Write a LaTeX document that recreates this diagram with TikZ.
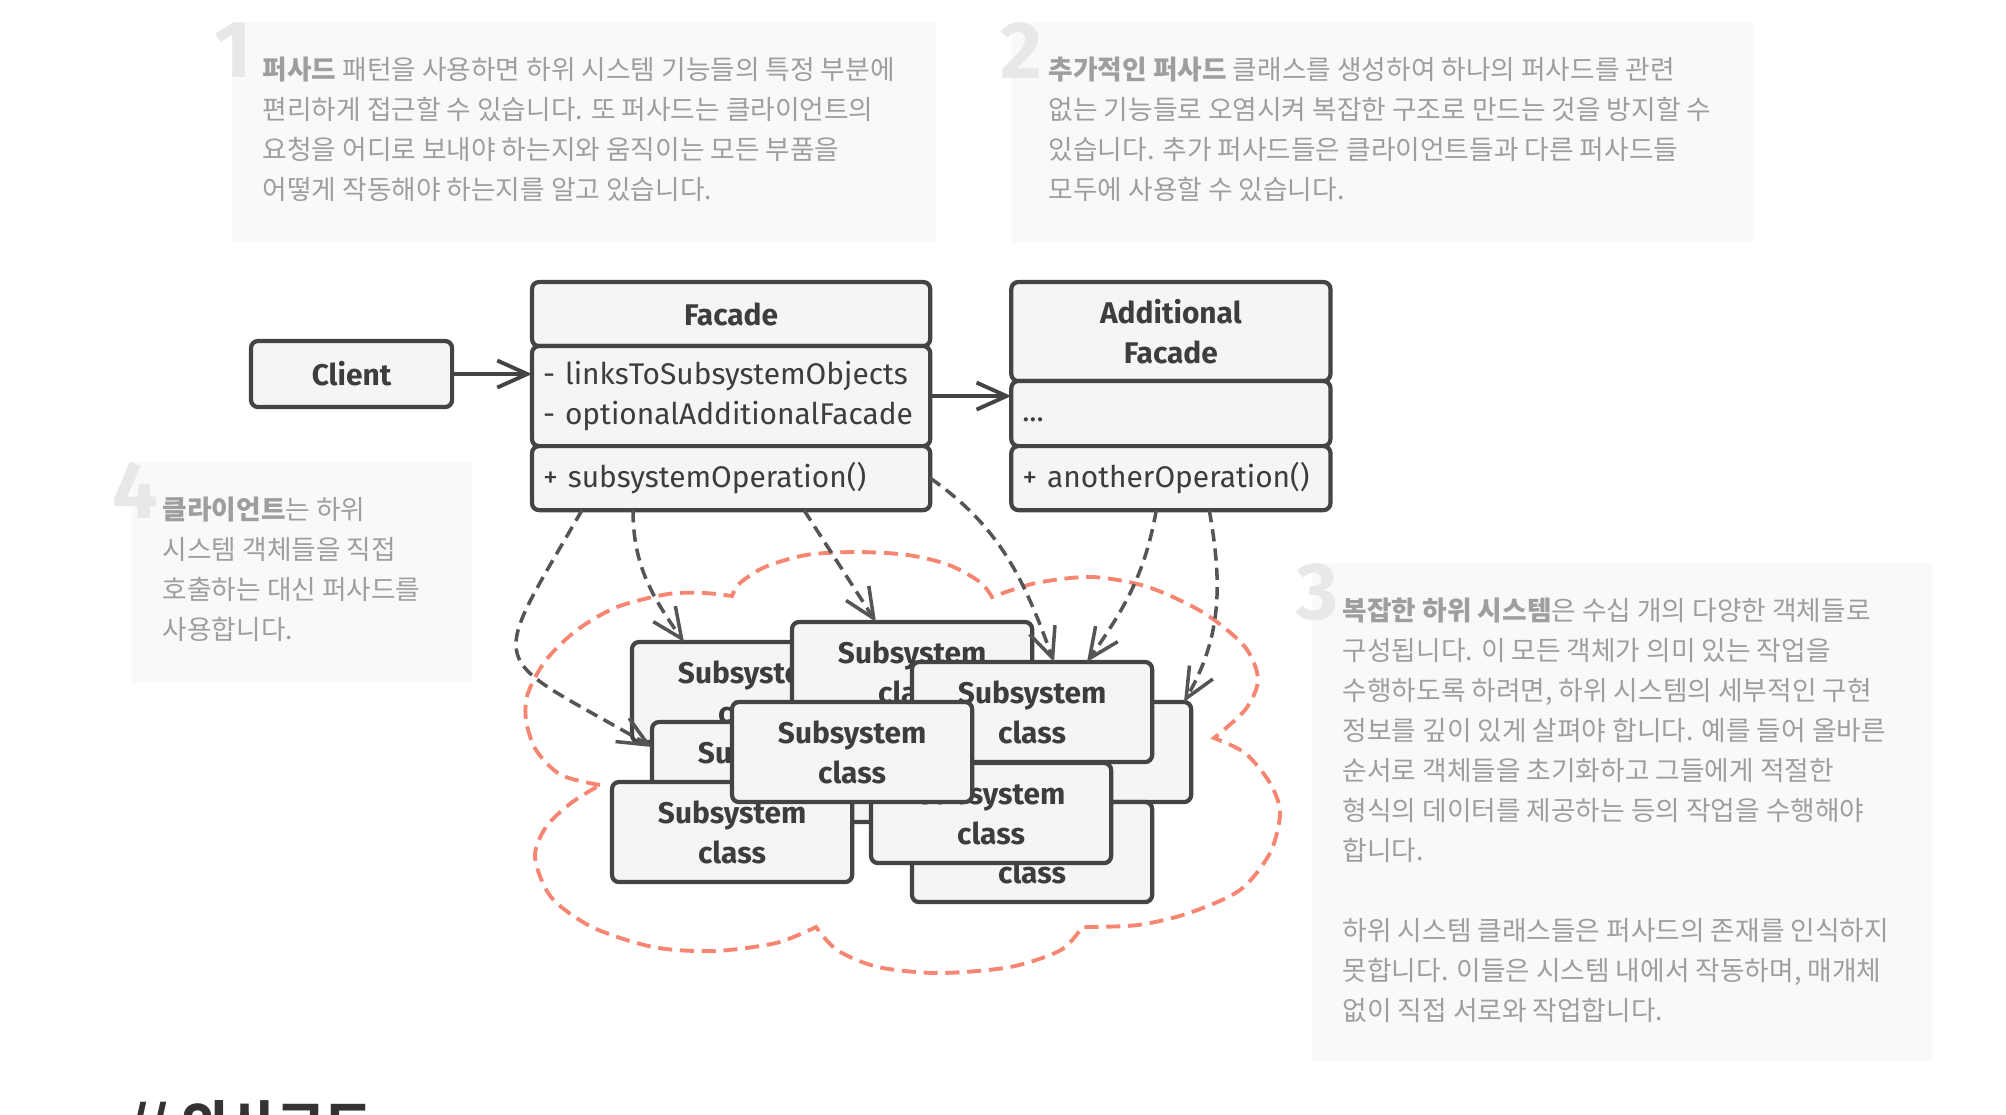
\documentclass[tikz,border=0pt]{standalone}
\usepackage{fontspec}
\setmainfont{Fira Sans}
\newfontfamily\kr{Noto Sans CJK KR}
\usetikzlibrary{arrows.meta, positioning, calc}
\definecolor{linegray}{RGB}{68,68,68}
\definecolor{boxgray}{RGB}{245,245,245}
\definecolor{inkgray}{RGB}{61,61,61}
\definecolor{arrowgray}{RGB}{85,85,85}
\definecolor{cloudred}{RGB}{246,134,114}
\definecolor{notegray}{RGB}{249,249,249}
\definecolor{numgray}{RGB}{232,232,232}
\definecolor{textgray}{RGB}{158,158,158}
\definecolor{headgray}{RGB}{51,51,51}

\begin{document}
\begin{tikzpicture}[
        x=0.01cm, y=0.01cm,
        note/.style={rectangle, fill=notegray, anchor=north west, inner sep=0pt, outer sep=0pt},
        notenum/.style={anchor=north west, inner sep=0pt, text=numgray, font=\bfseries\fontsize{23}{23}\selectfont},
        notetext/.style={anchor=north west, inner sep=0pt, align=left, text=textgray, font=\kr\fontsize{7.6}{11.38}\selectfont},
        box/.style={rectangle, draw=linegray, fill=boxgray, line width=1.2pt, rounded corners=2pt, outer sep=0pt, inner xsep=0.11cm, inner ysep=0pt, text=inkgray, font=\fontsize{8.5}{11.38}\selectfont},
        head/.style={box, font=\bfseries\fontsize{8.5}{11.38}\selectfont, align=center},
        member/.style={box, align=left},
        subsys/.style={head, anchor=north west, minimum width=2.4cm, minimum height=1cm},
        assoc/.style={draw=linegray, line width=1.1pt, -{Straight Barb[length=0.3cm, width=0.27cm]}},
        link/.style={draw=arrowgray, line width=1pt, dash pattern=on 3.5pt off 2pt, -{Straight Barb[length=0.3cm, width=0.27cm]}},
        cloudline/.style={draw=cloudred, line width=1.1pt, dash pattern=on 4pt off 2.2pt}
    ]
        \useasboundingbox (0,0) rectangle (2006,-1114);

        % notes
        \node[note, minimum width=7.04cm, minimum height=2.2cm] (note1) at (232,-22) {};
        \node[note, minimum width=7.42cm, minimum height=2.2cm] (note2) at (1012,-22) {};
        \node[note, minimum width=6.2cm, minimum height=4.98cm] (note3) at (1312,-563) {};
        \node[note, minimum width=3.4cm, minimum height=2.2cm] (note4) at (132,-462) {};
        \node[notenum] (num1) at ($(note1.north west)+(-18,0)$) {1};
        \node[notenum] (num2) at ($(note2.north west)+(-12,0)$) {2};
        \node[notenum] (num3) at ($(note3.north west)+(-16,0)$) {3};
        \node[notenum] (num4) at ($(note4.north west)+(-20,0)$) {4};
        \node[notetext] (text1) at ($(note1.north west)+(30,-27)$) {\rule{0pt}{0.3cm}\textbf{퍼사드} 패턴을 사용하면 하위 시스템 기능들의 특정 부분에\\
            편리하게 접근할 수 있습니다. 또 퍼사드는 클라이언트의\\
            요청을 어디로 보내야 하는지와 움직이는 모든 부품을\\
            어떻게 작동해야 하는지를 알고 있습니다.};
        \node[notetext] (text2) at ($(note2.north west)+(36,-27)$) {\rule{0pt}{0.3cm}\textbf{추가적인 퍼사드} 클래스를 생성하여 하나의 퍼사드를 관련\\
            없는 기능들로 오염시켜 복잡한 구조로 만드는 것을 방지할 수\\
            있습니다. 추가 퍼사드들은 클라이언트들과 다른 퍼사드들\\
            모두에 사용할 수 있습니다.};
        \node[notetext] (text3) at ($(note3.north west)+(30,-27)$) {\rule{0pt}{0.3cm}\textbf{복잡한 하위 시스템}은 수십 개의 다양한 객체들로\\
            구성됩니다. 이 모든 객체가 의미 있는 작업을\\
            수행하도록 하려면, 하위 시스템의 세부적인 구현\\
            정보를 깊이 있게 살펴야 합니다. 예를 들어 올바른\\
            순서로 객체들을 초기화하고 그들에게 적절한\\
            형식의 데이터를 제공하는 등의 작업을 수행해야\\
            합니다.\\[11.38pt]
            하위 시스템 클래스들은 퍼사드의 존재를 인식하지\\
            못합니다. 이들은 시스템 내에서 작동하며, 매개체\\
            없이 직접 서로와 작업합니다.};
        \node[notetext] (text4) at ($(note4.north west)+(30,-27)$) {\rule{0pt}{0.3cm}\textbf{클라이언트}는 하위\\
            시스템 객체들을 직접\\
            호출하는 대신 퍼사드를\\
            사용합니다.};

        % subsystem cloud
        \draw[cloudline] plot[smooth] coordinates {(600,-785) (561,-775) (536,-750) (526,-720) (528,-693) (546,-660) (577,-630) (617,-607) (668,-594) (704,-593) (732,-596)}
            -- plot[smooth] coordinates {(732,-596) (740,-583) (765,-567) (806,-555) (857,-552) (908,-555) (949,-565) (980,-582) (992,-597)}
            -- plot[smooth] coordinates {(992,-597) (1036,-583) (1092,-577) (1148,-587) (1204,-613) (1245,-647) (1258,-680) (1245,-710) (1214,-738)}
            -- plot[smooth] coordinates {(1214,-738) (1245,-753) (1270,-783) (1280,-813) (1270,-853) (1240,-890) (1189,-913) (1138,-925) (1082,-927)}
            -- plot[smooth] coordinates {(1082,-927) (1061,-950) (1010,-967) (939,-973) (878,-967) (837,-950) (816,-927)}
            -- plot[smooth] coordinates {(816,-927) (776,-943) (714,-951) (653,-947) (592,-927) (551,-897) (535,-857) (546,-827) (571,-803) (600,-785)};

        % classes
        \node[head, anchor=north west, minimum width=2.01cm, minimum height=0.66cm] (client) at (251,-341) {Client};

        \node[head, anchor=north west, minimum width=3.98cm, minimum height=0.64cm] (facade) at (532,-282) {Facade};
        \node[member, text width=3.76cm, minimum height=1cm, below=0pt of facade] (fattr) {- linksToSubsystemObjects\\- optionalAdditionalFacade};
        \node[member, text width=3.76cm, minimum height=0.64cm, below=0pt of fattr] (fop) {+ subsystemOperation()};

        \node[head, minimum width=3.19cm, minimum height=0.99cm, right=0.81cm of facade.north east, anchor=north west] (addfacade) {Additional\\Facade};
        \node[member, text width=2.97cm, minimum height=0.65cm, text height=0.22cm, text depth=0.06cm, below=0pt of addfacade] (aattr) {...};
        \node[member, text width=2.97cm, minimum height=0.64cm, below=0pt of aattr] (aop) {+ anotherOperation()};

        \node[subsys] (sub1) at (632,-642) {Subsystem\\class};
        \node[subsys] (sub2) at (792,-622) {Subsystem\\class};
        \node[subsys] (sub3) at (951,-702) {Subsystem\\class};
        \node[subsys] (sub4) at (912,-802) {Subsystem\\class};
        \node[subsys] (sub5) at (912,-662) {Subsystem\\class};
        \node[subsys] (sub6) at (652,-722) {Subsystem\\class};
        \node[subsys] (sub7) at (871,-763) {Subsystem\\class};
        \node[subsys] (sub8) at (612,-782) {Subsystem\\class};
        \node[subsys] (sub9) at (732,-702) {Subsystem\\class};

        % connectors
        \draw[assoc] (client.east) -- (client.east -| fattr.west);
        \draw[assoc] (fattr.east) -- (fattr.east -| aattr.west);

        \draw[link] ($(fop.south west)+(50,0)$) to[out=240, in=150, looseness=2] ($(sub6.north west)+(0,-25)$);
        \draw[link] ($(fop.south west)+(101,0)$) to[out=270, in=125] ($(sub1.north west)+(52,0)$);
        \draw[link] ($(fop.south west)+(272,0)$) -- ($(sub2.north west)+(84,0)$);
        \draw[link] (fop.east) to[out=-35, in=110] ($(sub5.north west)+(142,0)$);
        \draw[link] ($(aop.south west)+(145,0)$) to[out=260, in=55] ($(sub5.north west)+(175,0)$);
        \draw[link] ($(aop.south west)+(198,0)$) to[out=-80, in=60] ($(sub3.north west)+(233,0)$);

        \node[anchor=base west, inner sep=0pt, text=headgray, font=\kr\bfseries\fontsize{14.8}{16}\selectfont] (pseudo) at (128,-1144) {// 의사코드};
    \end{tikzpicture}
\end{document}
